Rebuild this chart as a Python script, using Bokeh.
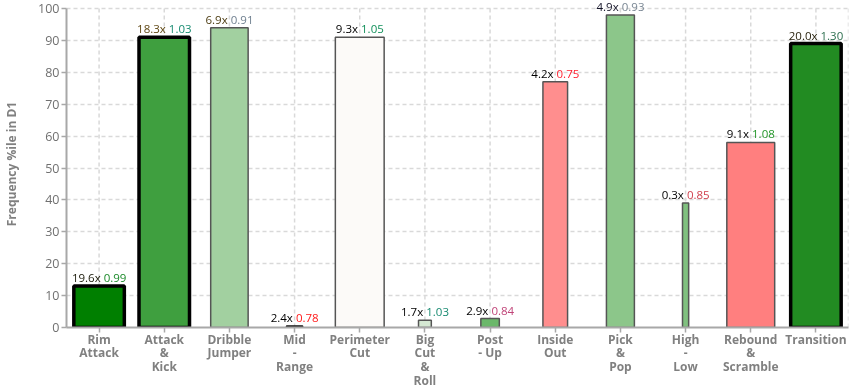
from bokeh.plotting import figure
from bokeh.models import FactorRange, ColumnDataSource, LabelSet
from bokeh.core.properties import value
from bokeh.transform import dodge
from bokeh.embed import file_html
from bokeh.resources import INLINE

categories = ["Rim\nAttack", "Attack\n&\nKick", "Dribble\nJumper", "Mid\n-\nRange",
              "Perimeter\nCut", "Big\nCut\n&\nRoll", "Post\n- Up", "Inside\nOut",
              "Pick\n&\nPop", "High\n-\nLow", "Rebound\n&\nScramble", "Transition"]
freq_pct = [19.6, 18.3, 6.9, 2.4, 9.3, 1.7, 2.9, 4.2, 4.9, 0.3, 9.1, 20.0]
ppp = [0.99, 1.03, 0.91, 0.78, 1.05, 1.03, 0.84, 0.75, 0.93, 0.85, 1.08, 1.30]
freq_ile = [13, 91, 94, 0.5, 91, 2.3, 2.8, 77, 98, 39, 58, 89]
bar_colors = ["#007f00", "#3f9f3f", "#a2d0a0", "#202020", "#fcfaf8", "#d5e9d3",
              "#6bb86a", "#ff8e8e", "#8cc68a", "#80c07f", "#ff7f7f", "#228b22"]
freq_colors = ["#1a1a0a", "#5e4612", "#4e3e14", "#000000", "#000000", "#000000",
               "#000000", "#000000", "#141428", "#000000", "#000000", "#2a2410"]
ppp_colors = ["#1b8a2a", "#168a70", "#708090", "#ff1a1a", "#11905a", "#168a70",
              "#c04478", "#ff2030", "#7a8794", "#d0404e", "#24962a", "#2e7050"]
y_ticks = [0, 10, 20, 30, 40, 50, 60, 70, 80, 90, 100]

FONT = "Open Sans"
FS = 11.5

# bar width grows with frequency, capped
widths = [min(0.8 * (f + 1) / 11, 0.775) for f in freq_pct]
thick = [f >= 15 for f in freq_pct]
line_colors = ["#000000" if t else ("#111111" if v < 1 else "#555555")
               for t, v in zip(thick, freq_ile)]
line_widths = [3.5 if t else 1.5 for t in thick]

# label split: "<freq>x" in one colour, "<ppp>" in another
adv = {"0": .572, "1": .572, "2": .572, "3": .572, "4": .572, "5": .572, "6": .572,
       "7": .572, "8": .572, "9": .572, ".": .266, "x": .537, " ": .26}
def tw(s):
    return sum(adv.get(c, .55) for c in s) * FS

first = [f"{f:.1f}x" for f in freq_pct]
second = [f"{v:.2f}" for v in ppp]
off1, off2 = [], []
for a, b in zip(first, second):
    W = tw(a) + tw(" ") + tw(b)
    off1.append(tw(a) - W / 2)
    off2.append(tw(a) + tw(" ") - W / 2)

src = ColumnDataSource(dict(cat=categories, top=freq_ile, w=widths, fc=bar_colors,
                            lc=line_colors, lw=line_widths, t1=first, t2=second,
                            o1=off1, o2=off2, c1=freq_colors, c2=ppp_colors))

Y_MAX = y_ticks[-1]
# leave 8px above the 100 line so bar labels are not clipped (frame 327px, 100 at 319px)
y_end = Y_MAX * 327 / 319

p = figure(x_range=FactorRange(*categories), y_range=(0, y_end), width=863, height=393,
           output_backend="svg", toolbar_location=None,
           min_border_left=64, min_border_right=15, min_border_top=0, min_border_bottom=66,
           styles={"position": "fixed", "top": "0px", "left": "0px"})
p.x_range.range_padding = 0
p.outline_line_color = None
p.xgrid.grid_line_color = None

grid_style = dict(line_color="#d9d9d9", line_dash="4 3", line_width=1.5)
# vertical grid lines at category centres, from 0 to 100
p.segment(x0="cat", y0=0, x1="cat", y1=Y_MAX, source=src, **grid_style)
# right frame edge
edge = ColumnDataSource(dict(c=[categories[-1]]))
p.segment(x0=dodge("c", 0.5, range=p.x_range), y0=0,
          x1=dodge("c", 0.5, range=p.x_range), y1=Y_MAX, source=edge, **grid_style)

p.vbar(x="cat", top="top", width="w", bottom=0, source=src, fill_color="fc",
       line_color="lc", line_width="lw")

lab1 = LabelSet(x="cat", y="top", text="t1", source=src, x_offset="o1", y_offset=4,
                text_align="right", text_baseline="alphabetic", text_color="c1",
                text_font=value(FONT), text_font_size=f"{FS}px")
lab2 = LabelSet(x="cat", y="top", text="t2", source=src, x_offset="o2", y_offset=4,
                text_align="left", text_baseline="alphabetic", text_color="c2",
                text_font=value(FONT), text_font_size=f"{FS}px")
p.add_layout(lab1)
p.add_layout(lab2)

p.yaxis.ticker = y_ticks
p.yaxis.bounds = (0, Y_MAX)
p.ygrid.grid_line_color = "#d9d9d9"
p.ygrid.grid_line_dash = "4 3"
p.ygrid.grid_line_width = 1.5

p.yaxis.axis_label = "Frequency %ile in D1"
p.yaxis.axis_label_text_font = FONT
p.yaxis.axis_label_text_font_style = "bold"
p.yaxis.axis_label_text_font_size = "12px"
p.yaxis.axis_label_text_color = "#808080"
p.yaxis.axis_label_standoff = 15
p.yaxis.major_label_text_font = FONT
p.yaxis.major_label_text_font_size = "12.5px"
p.yaxis.major_label_text_color = "#707070"
p.yaxis.major_label_standoff = 2

p.xaxis.major_label_text_font = FONT
p.xaxis.major_label_text_font_style = "bold"
p.xaxis.major_label_text_font_size = "12px"
p.xaxis.major_label_text_color = "#808080"
p.xaxis.major_label_text_line_height = 0.82
p.xaxis.major_label_standoff = -2

for ax in (p.xaxis, p.yaxis):
    ax.axis_line_color = "#a8a8a8"
    ax.axis_line_width = 2
    ax.major_tick_line_color = "#a8a8a8"
    ax.major_tick_line_width = 1.5
    ax.major_tick_out = 5
    ax.major_tick_in = 0
    ax.minor_tick_line_color = None

open("out.html", "w").write(file_html(p, INLINE))
